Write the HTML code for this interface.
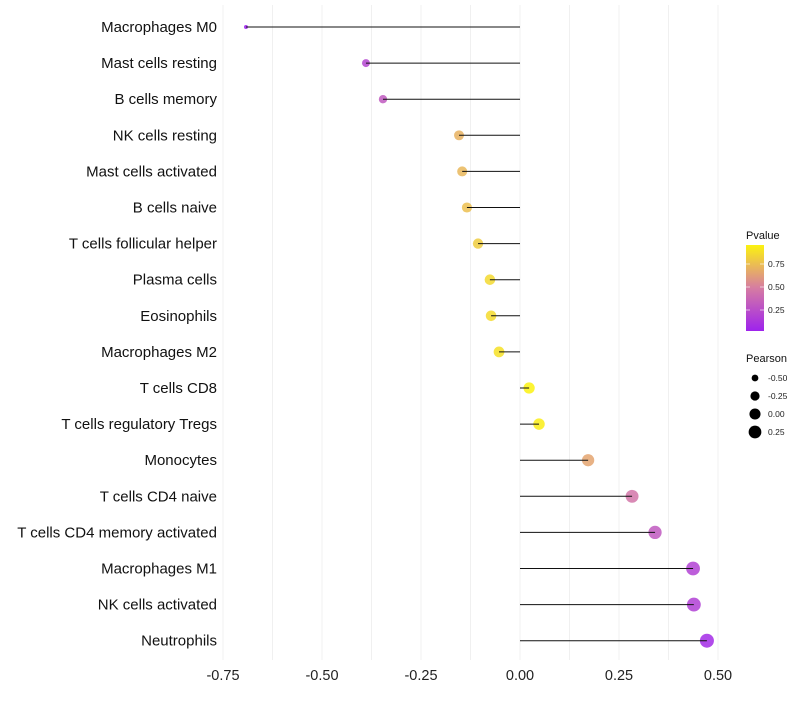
<!DOCTYPE html>
<html><head><meta charset="utf-8"><style>
body{margin:0;background:#fff;font-family:"Liberation Sans",sans-serif}
</style></head><body>
<svg id="chart" width="800" height="700" xmlns="http://www.w3.org/2000/svg" font-family="Liberation Sans, sans-serif"></svg>
<script>
const cells=["Macrophages M0","Mast cells resting","B cells memory","NK cells resting","Mast cells activated","B cells naive","T cells follicular helper","Plasma cells","Eosinophils","Macrophages M2","T cells CD8","T cells regulatory  Tregs","Monocytes","T cells CD4 naive","T cells CD4 memory activated","Macrophages M1","NK cells activated","Neutrophils"];
const pearson=[-0.692,-0.389,-0.346,-0.154,-0.146,-0.134,-0.106,-0.076,-0.073,-0.053,0.023,0.048,0.172,0.283,0.341,0.437,0.439,0.472];
const pvalue=[0.002,0.2,0.3,0.7,0.72,0.75,0.8,0.85,0.86,0.88,0.95,0.93,0.65,0.45,0.3,0.18,0.17,0.06];
const xTicks=[-0.75,-0.5,-0.25,0,0.25,0.5];
const legendP=[0.25,0.5,0.75];
const legendR=[-0.5,-0.25,0,0.25];
const NS="http://www.w3.org/2000/svg";
const svg=document.getElementById('chart');
const x=v=>520+v*396;
const y=i=>27+i*36.1;
const rad=p=>Math.sqrt(Math.max(1,30.8+38.8*p));
function col(p){const a=[156,31,240],b=[216,127,160],c=[255,255,0];let s,e,t;
 if(p<0.5){s=a;e=b;t=p/0.5}else{s=b;e=c;t=(p-0.5)/0.5}
 return `rgb(${s.map((v,k)=>Math.round(v+(e[k]-v)*t)).join(',')})`;}
function mk(tag,at,txt){const el=document.createElementNS(NS,tag);for(const k in at)el.setAttribute(k,at[k]);if(txt!=null)el.textContent=txt;svg.appendChild(el);return el;}
for(let v=-0.75;v<=0.5001;v+=0.125){const g=mk('line',{x1:x(v),x2:x(v),y1:5,y2:660,stroke:'#f0f0f0','stroke-width':1});

}
xTicks.forEach(v=>{const t=mk('text',{x:x(v),y:680,'text-anchor':'middle','font-size':14.5,fill:'#222'},v.toFixed(2));

});
cells.forEach((c,i)=>{
 const l=mk('text',{x:217,y:y(i)+5,'text-anchor':'end','font-size':15,fill:'#111'},c);
 
 
 const d=mk('circle',{cx:x(pearson[i]),cy:y(i),r:rad(pearson[i]),fill:col(pvalue[i]),'fill-opacity':0.85});
 
 
 const s=mk('line',{x1:x(0),x2:x(pearson[i]),y1:y(i),y2:y(i),stroke:'#111','stroke-width':1});
 
 
});
const defs=mk('defs',{});
const gr=document.createElementNS(NS,'linearGradient');gr.setAttribute('id','pg');gr.setAttribute('x1','0');gr.setAttribute('y1','1');gr.setAttribute('x2','0');gr.setAttribute('y2','0');
[0,0.25,0.5,0.75,1].forEach(o=>{const st=document.createElementNS(NS,'stop');st.setAttribute('offset',o);st.setAttribute('stop-color',col(0.02+o*0.93));gr.appendChild(st);});
defs.appendChild(gr);
const lt=mk('text',{x:746,y:239,'font-size':11,fill:'#111'},'Pvalue');


const bar=mk('rect',{x:746,y:245,width:18,height:86,fill:'url(#pg)'});


legendP.forEach(p=>{const yy=333-p*92;
 mk('line',{x1:746,x2:750,y1:yy,y2:yy,stroke:'#fff','stroke-opacity':0.6});
 mk('line',{x1:760,x2:764,y1:yy,y2:yy,stroke:'#fff','stroke-opacity':0.6});
 const t=mk('text',{x:768,y:yy+3,'font-size':8.5,fill:'#222'},p.toFixed(2));
 
 });
const pt=mk('text',{x:746,y:362,'font-size':11,fill:'#111'},'Pearson');


legendR.forEach((p,k)=>{const yy=378+k*18;
 const c=mk('circle',{cx:755,cy:yy,r:rad(p),fill:'#000'});
 
 
 const t=mk('text',{x:768,y:yy+3,'font-size':8.5,fill:'#222'},p.toFixed(2));
 
 });
</script>
</body></html>
